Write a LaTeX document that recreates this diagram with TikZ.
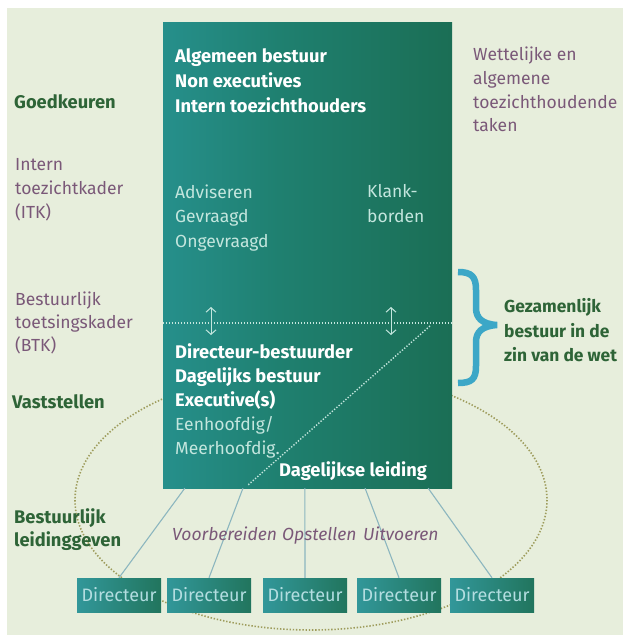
\documentclass[tikz,border=0pt]{standalone}
\usepackage{fontspec}
\setmainfont{Fira Sans}
\usetikzlibrary{calc,arrows.meta}
\definecolor{bgcol}{HTML}{E7EEDC}
\definecolor{tealL}{HTML}{2FA2AD}
\definecolor{tealM}{HTML}{1F8070}
\definecolor{greenD}{HTML}{175F3E}
\definecolor{dtealL}{HTML}{3AA8B8}
\definecolor{dgreenD}{HTML}{19643F}
\definecolor{txtgreen}{HTML}{2E6437}
\definecolor{mauve}{HTML}{7A5878}
\definecolor{lighttxt}{HTML}{C4E6DE}
\definecolor{dirtxt}{HTML}{B3DDE0}
\definecolor{bracecol}{HTML}{3CA7C7}
\definecolor{ellcol}{HTML}{9E9C5C}
\definecolor{conncol}{HTML}{8CB6BF}
\pgfdeclarehorizontalshading{mainshade}{100bp}{color(0bp)=(tealL); color(45bp)=(tealM); color(100bp)=(greenD)}
\pgfdeclarehorizontalshading{dirshade}{100bp}{color(0bp)=(dtealL); color(100bp)=(dgreenD)}
\begin{document}
\begin{tikzpicture}[x=1pt,y=-1pt,
  every node/.style={font=\fontsize{17.5}{21}\selectfont},
  lbl/.style={anchor=base west, inner sep=0pt},
  boldgreen/.style={lbl, text=txtgreen, font=\fontsize{18.3}{22}\selectfont\bfseries},
  mauvetxt/.style={lbl, text=mauve},
  boxtitle/.style={lbl, text=white, font=\fontsize{18.3}{22}\selectfont\bfseries},
  boxlight/.style={lbl, text=lighttxt},
  mainbox/.style={shading=mainshade, draw=none, inner sep=0pt, minimum width=289pt, minimum height=466pt},
  dirbox/.style={shading=dirshade, draw=none, inner sep=0pt, minimum width=84pt, minimum height=34pt, text=dirtxt, font=\fontsize{18}{21}\selectfont},
  conn/.style={draw=conncol, line width=1.1pt},
  dotline/.style={draw=lighttxt, line width=1.4pt, dash pattern=on 1.3pt off 1.7pt},
  dblarrow/.style={draw=lighttxt, line width=1pt, {Straight Barb[length=4.5pt,width=10pt]}-{Straight Barb[length=4.5pt,width=10pt]}}
]
\useasboundingbox (0,0) rectangle (623,637);
\fill[white] (0,0) rectangle (623,637);
\fill[bgcol] (7,8) rectangle (623,635);

% dotted ellipse behind everything
\draw[ellcol, line width=1.6pt, dash pattern=on 1.4pt off 1.8pt] (311,500) ellipse [x radius=236, y radius=130];

% main box
\node[mainbox] (main) at (307.5,255) {};

% directeur boxes
\node[dirbox] (d1) at (119,595) {Directeur};
\node[dirbox] (d2) at (209,595) {Directeur};
\node[dirbox] (d3) at (305,595) {Directeur};
\node[dirbox] (d4) at (399,595) {Directeur};
\node[dirbox] (d5) at (492,595) {Directeur};

% connectors
\draw[conn] ($(main.south west)!0.076!(main.south east)$) -- (d1.north);
\draw[conn] ($(main.south west)!0.277!(main.south east)$) -- (d2.north);
\draw[conn] ($(main.south west)!0.491!(main.south east)$) -- (d3.north);
\draw[conn] ($(main.south west)!0.699!(main.south east)$) -- (d4.north);
\draw[conn] ($(main.south west)!0.917!(main.south east)$) -- (d5.north);

% dotted separators inside the box
\coordinate (hl) at (0,323);
\draw[dotline] (main.west |- hl) -- (main.east |- hl);
\coordinate (dgA) at (430,326);
\coordinate (dgB) at (248,485);
\draw[dotline] (dgA) -- (dgB);

% double arrows
\coordinate (a1t) at (211,307); \coordinate (a1b) at (211,335);
\coordinate (a2t) at (391,307); \coordinate (a2b) at (391,335);
\draw[dblarrow] (a1t) -- (a1b);
\draw[dblarrow] (a2t) -- (a2b);

% texts inside the main box
\node[boxtitle] (t1) at (175,62) {Algemeen bestuur};
\node[boxtitle] (t2) at (175,87) {Non executives};
\node[boxtitle] (t3) at (175,112) {Intern toezichthouders};
\node[boxlight] (t4) at (175,198) {Adviseren};
\node[boxlight] (t5) at (175,222) {Gevraagd};
\node[boxlight] (t6) at (175,247) {Ongevraagd};
\node[boxlight] (t7) at (367,197) {Klank-};
\node[boxlight] (t8) at (367,222) {borden};
\node[boxtitle] (t9) at (175,358) {Directeur-bestuurder};
\node[boxtitle] (t10) at (175,382) {Dagelijks bestuur};
\node[boxtitle] (t11) at (175,406) {Executive(s)};
\node[boxlight] (t12) at (175,430) {Eenhoofdig/};
\node[boxlight] (t13) at (175,454) {Meerhoofdig.};
\node[boxtitle] (t14) at (279,476) {Dagelijkse leiding};

% left column
\node[boldgreen] (l1) at (14,108) {Goedkeuren};
\node[mauvetxt] (l2) at (15,170) {Intern};
\node[mauvetxt] (l3) at (15,194) {toezichtkader};
\node[mauvetxt] (l4) at (15,218) {(ITK)};
\node[mauvetxt] (l5) at (15,305) {Bestuurlijk};
\node[mauvetxt] (l6) at (15,328) {toetsingskader};
\node[mauvetxt] (l7) at (15,351) {(BTK)};
\node[boldgreen] (l8) at (12,408) {Vaststellen};
\node[boldgreen] (l9) at (14,523) {Bestuurlijk};
\node[boldgreen] (l10) at (14,546) {leidinggeven};

% right column
\node[mauvetxt] (r1) at (473,60) {Wettelijke en};
\node[mauvetxt] (r2) at (473,84) {algemene};
\node[mauvetxt] (r3) at (473,108) {toezichthoudende};
\node[mauvetxt] (r4) at (473,131) {taken};
\node[boldgreen, font=\fontsize{17.4}{21}\selectfont\bfseries] (r5) at (504,312) {Gezamenlijk};
\node[boldgreen, font=\fontsize{17.4}{21}\selectfont\bfseries] (r6) at (504,337) {bestuur in de};
\node[boldgreen, font=\fontsize{17.4}{21}\selectfont\bfseries] (r7) at (504,361) {zin van de wet};

% brace
\draw[bracecol, line width=6.5pt, line join=miter]
  (458,272) .. controls (472,272) and (476,277) .. (476,290) -- (476,308)
  .. controls (476,318) and (482,324) .. (497,325)
  .. controls (482,326) and (476,332) .. (476,342) -- (476,366)
  .. controls (476,379) and (472,383) .. (458,383);

% italic process words
\node[mauvetxt, font=\fontsize{17.5}{21}\selectfont\itshape] (p1) at (172,540) {Voorbereiden};
\node[mauvetxt, font=\fontsize{17.5}{21}\selectfont\itshape] (p2) at (282,540) {Opstellen};
\node[mauvetxt, font=\fontsize{17.5}{21}\selectfont\itshape] (p3) at (363,540) {Uitvoeren};
\end{tikzpicture}
\end{document}
